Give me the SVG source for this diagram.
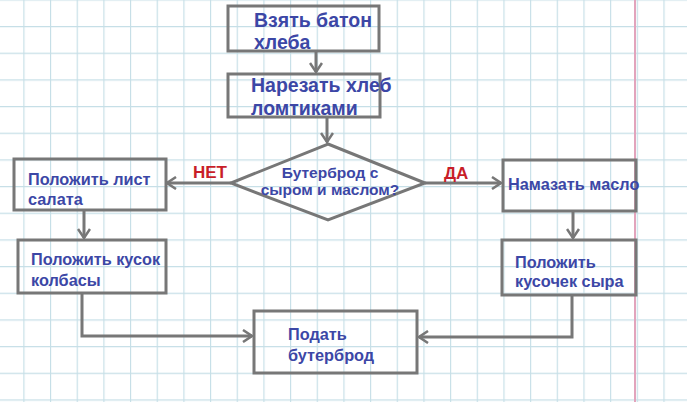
<svg xmlns="http://www.w3.org/2000/svg" width="687" height="402" viewBox="0 0 687 402">
<style>
.box{fill:none;stroke:#777;stroke-width:3}
.c{fill:none;stroke:#777;stroke-width:3}
.t{font-family:"Liberation Sans",Arial,sans-serif;font-weight:bold;fill:#3c47a6}
.l{font-family:"Liberation Sans",Arial,sans-serif;font-weight:bold;fill:#c81e28;font-size:17px}
</style>
<defs>
<pattern id="grid" x="-3.33" y="-0.67" width="26.67" height="26.67" patternUnits="userSpaceOnUse">
<path d="M0.5 0V26.67M0 0.5H26.67" stroke="#c6dfe7" stroke-width="1.3" fill="none"/>
</pattern>
<marker id="a" markerWidth="14" markerHeight="14" refX="12" refY="7" orient="auto" markerUnits="userSpaceOnUse">
<polyline points="3,1 12,7 3,13" fill="none" stroke="#777" stroke-width="2.5"/>
</marker>
</defs>
<rect width="687" height="402" fill="#fff"/>
<rect width="687" height="402" fill="url(#grid)"/>
<line x1="635" y1="0" x2="635" y2="402" stroke="#e2a4bc" stroke-width="2"/>
<g id="connectors">
<path class="c" d="M316 51V72" marker-end="url(#a)"/>
<path class="c" d="M327 117V142" marker-end="url(#a)"/>
<path class="c" d="M231 183H167" marker-end="url(#a)"/>
<path class="c" d="M425 183H501" marker-end="url(#a)"/>
<path class="c" d="M84 210V238" marker-end="url(#a)"/>
<path class="c" d="M573 211V238" marker-end="url(#a)"/>
<path class="c" d="M82 293V336H252" marker-end="url(#a)"/>
<path class="c" d="M572 295V337H419" marker-end="url(#a)"/>
<text class="l" x="193" y="178">НЕТ</text>
<text class="l" x="444" y="179">ДА</text>
</g>
<g id="n1"><rect class="box" x="228" y="6" width="151" height="45"/>
<text class="t" font-size="19.5"><tspan x="254" y="27">Взять батон</tspan><tspan x="254" y="49">хлеба</tspan></text></g>
<g id="n2"><rect class="box" x="228" y="74" width="152" height="43"/>
<text class="t" font-size="19.5"><tspan x="251" y="92">Нарезать хлеб</tspan><tspan x="251" y="115">ломтиками</tspan></text></g>
<g id="d"><polygon class="box" points="328,144 425,183 328,220 231,183"/>
<text class="t" font-size="15.5" text-anchor="middle"><tspan x="330" y="178">Бутерброд с</tspan><tspan x="330" y="195">сыром и маслом?</tspan></text></g>
<g id="l1"><rect class="box" x="14" y="159" width="152" height="51"/>
<text class="t" font-size="16.3"><tspan x="28" y="185">Положить лист</tspan><tspan x="28" y="205">салата</tspan></text></g>
<g id="l2"><rect class="box" x="18" y="240" width="148" height="53"/>
<text class="t" font-size="16.3"><tspan x="31" y="265">Положить кусок</tspan><tspan x="31" y="286">колбасы</tspan></text></g>
<g id="r1"><rect class="box" x="503" y="160" width="133" height="51"/>
<text class="t" font-size="16.3"><tspan x="508" y="190">Намазать масло</tspan></text></g>
<g id="r2"><rect class="box" x="502" y="240" width="134" height="55"/>
<text class="t" font-size="16.3"><tspan x="515" y="268">Положить</tspan><tspan x="515" y="287">кусочек сыра</tspan></text></g>
<g id="s"><rect class="box" x="254" y="311" width="163" height="62"/>
<text class="t" font-size="16.3"><tspan x="288" y="340">Подать</tspan><tspan x="288" y="361">бутерброд</tspan></text></g>
</svg>
